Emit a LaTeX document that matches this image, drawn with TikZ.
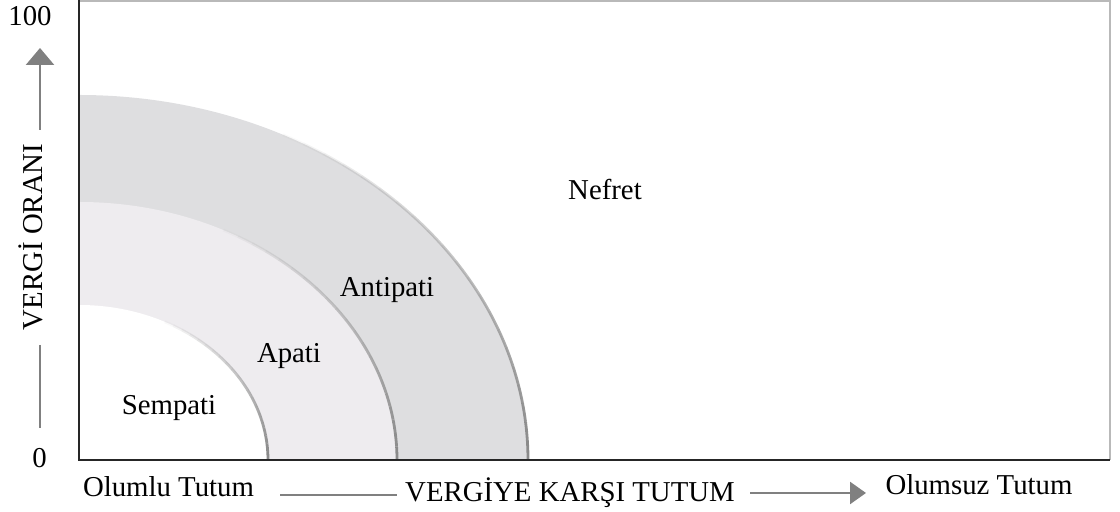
\documentclass[tikz,border=0pt]{standalone}
\usepackage{fontspec}
\setmainfont{Liberation Serif}
\usetikzlibrary{arrows.meta}
\definecolor{outerband}{HTML}{DEDEE0}
\definecolor{midband}{HTML}{EEECEF}
\definecolor{guidegray}{HTML}{808080}
\definecolor{rimgray}{HTML}{8A8A8A}

\begin{document}
\begin{tikzpicture}[
    x=0.5pt,
    y=0.5pt,
    font=\fontsize{14.4}{17}\selectfont,
    frame/.style={black!85, line width=1pt},
    frameshade/.style={gray!55, line width=1.2pt},
    rim/.style={rimgray, line width=1.4pt},
    guide/.style={guidegray, line width=1.3pt},
    txt/.style={anchor=base, inner sep=0pt}
  ]
  \useasboundingbox (0,0) rectangle (1120,512);
  \coordinate (origin) at (79,52);

  % attitude zones, outer to inner
  \foreach \rx/\ry/\col in {224.5/182.5/outerband, 159/129/midband, 94.5/77.5/white} {
    \fill[\col] (origin) -- ++(\rx pt,0)
      arc[start angle=0, end angle=90, x radius=\rx pt, y radius=\ry pt] -- cycle;
    \foreach \a in {0,3,...,60} {
      \pgfmathsetmacro\op{1-\a/63}
      \draw[rim, draw opacity=\op] ([shift={(\a:\rx pt and \ry pt)}]origin)
        arc[start angle=\a, end angle=\a+3, x radius=\rx pt, y radius=\ry pt];
    }
  }

  % frame
  \coordinate (tl) at (79,511.5);
  \coordinate (tr) at (1110,511.5);
  \coordinate (br) at (1110,52);
  \draw[frameshade] (tl) -- (tr) -- (br);
  \draw[frame] (tl) -- (origin) -- (br);

  % vertical axis
  \node[txt] (hundred) at (30,486) {100};
  \node[txt] (zero) at (39.5,44) {0};
  \node[txt, rotate=90] (oran) at (42,275) {VERGİ ORANI};
  \coordinate (upfoot) at (40,382);
  \coordinate (uptip) at (40,464);
  \draw[guide, -{Triangle[length=8.5pt,width=14pt]}] (upfoot) -- (uptip);
  \coordinate (lowtop) at (40,167);
  \coordinate (lowfoot) at (40,84);
  \draw[guide] (lowtop) -- (lowfoot);

  % horizontal axis
  \node[txt] (olumlu) at (168.5,15) {Olumlu Tutum};
  \node[txt] (tutum) at (570,10) {VERGİYE KARŞI TUTUM};
  \node[txt] (olumsuz) at (979,17) {Olumsuz Tutum};
  \coordinate (leftfoot) at (280,17);
  \coordinate (leftend) at (397,17);
  \draw[guide] (leftfoot) -- (leftend);
  \coordinate (rightfoot) at (750,19);
  \coordinate (righttip) at (866,19);
  \draw[guide, -{Triangle[length=8pt,width=11pt]}] (rightfoot) -- (righttip);

  % zone names
  \node[txt] (nefret) at (605,312) {Nefret};
  \node[txt] (antipati) at (387,215) {Antipati};
  \node[txt] (apati) at (289,149) {Apati};
  \node[txt] (sempati) at (169,97) {Sempati};
\end{tikzpicture}
\end{document}
